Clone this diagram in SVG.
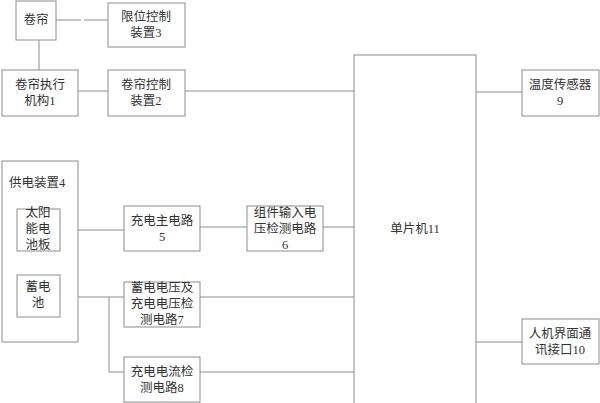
<svg xmlns="http://www.w3.org/2000/svg" width="600" height="403" viewBox="0 0 600 403">
<style>
rect{fill:#fff;stroke:#8c8c8c;stroke-width:1}
.c line,.c polyline{stroke:#8c8c8c;stroke-width:1;fill:none}
text{font-family:"Liberation Serif","Noto Sans CJK SC","Noto Sans CJK JP",serif;font-size:12.5px;fill:#333;text-anchor:middle;dominant-baseline:central}
</style>
<rect x="0" y="0" width="600" height="403" style="stroke:none"/>
<g class="c" id="connectors">
<line x1="56" y1="20" x2="81" y2="20"/>
<line x1="84" y1="20" x2="108" y2="20"/>
<line x1="39" y1="40" x2="39" y2="70"/>
<line x1="78" y1="91" x2="108" y2="91"/>
<line x1="185" y1="91" x2="354" y2="91"/>
<line x1="476" y1="92" x2="522" y2="92"/>
<line x1="476" y1="342" x2="522" y2="342"/>
<line x1="60" y1="230" x2="124" y2="230"/>
<line x1="200" y1="227" x2="247" y2="227"/>
<line x1="323" y1="227" x2="354" y2="227"/>
<line x1="60" y1="297" x2="124" y2="297"/>
<line x1="200" y1="297" x2="354" y2="297"/>
<polyline points="109,297 109,372 124,372"/>
<line x1="200" y1="372" x2="354" y2="372"/>
</g>
<g id="n-juanlian"><rect x="16" y="1" width="40" height="39"/><text x="36" y="20">卷帘</text></g>
<g id="n3"><rect x="108" y="3" width="77" height="44"/><text x="146" y="17">限位控制</text><text x="146" y="33">装置3</text></g>
<g id="n1"><rect x="2" y="70" width="76" height="46"/><text x="40" y="85">卷帘执行</text><text x="40" y="101">机构1</text></g>
<g id="n2"><rect x="108" y="70" width="77" height="46"/><text x="146" y="85">卷帘控制</text><text x="146" y="101">装置2</text></g>
<g id="n9"><rect x="522" y="70" width="77" height="46"/><text x="560" y="85">温度传感器</text><text x="560" y="101">9</text></g>
<g id="n10"><rect x="522" y="319" width="77" height="45"/><text x="560" y="334">人机界面通</text><text x="560" y="350">讯接口10</text></g>
<g id="n11"><rect x="354" y="55" width="122" height="350"/><text x="415" y="229">单片机11</text></g>
<g id="n4"><rect x="2" y="161" width="76" height="181"/><text x="9" y="183" style="text-anchor:start">供电装置4</text></g>
<g id="n-solar"><rect x="17" y="209" width="43" height="42"/><text x="38" y="213">太阳</text><text x="38" y="229">能电</text><text x="38" y="245">池板</text></g>
<g id="n-battery"><rect x="17" y="275" width="43" height="42"/><text x="38" y="287">蓄电</text><text x="38" y="303">池</text></g>
<g id="n5"><rect x="124" y="206" width="76" height="45"/><text x="162" y="221">充电主电路</text><text x="162" y="237">5</text></g>
<g id="n6"><rect x="247" y="206" width="76" height="45"/><text x="285" y="213">组件输入电</text><text x="285" y="229">压检测电路</text><text x="285" y="245">6</text></g>
<g id="n7"><rect x="124" y="282" width="76" height="45"/><text x="162" y="288">蓄电电压及</text><text x="162" y="304">充电电压检</text><text x="162" y="320">测电路7</text></g>
<g id="n8"><rect x="124" y="357" width="76" height="45"/><text x="162" y="372">充电电流检</text><text x="162" y="388">测电路8</text></g>
</svg>
